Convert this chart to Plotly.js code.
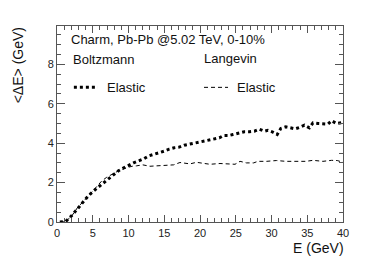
<!DOCTYPE html>
<html>
<head>
<meta charset="utf-8">
<script src="https://cdn.plot.ly/plotly-3.0.1.min.js"></script>
<style>html,body{margin:0;padding:0;background:#fff;}#chart{width:382px;height:261px;}</style>
</head>
<body>
<div id="chart"></div>
<script>
// Boltzmann, elastic
const boltzE = [0.4, 1.2, 2.05, 2.66, 3.2, 3.8, 4.4, 5.1, 5.8, 6.5, 7.2, 7.9, 8.6, 9.2, 9.8, 10.7, 11.4, 12.1, 12.8, 13.5, 14.3, 15.0, 15.7, 16.4, 17.1, 17.8, 18.5, 19.2, 19.9, 20.7, 21.3, 22.1, 22.7, 23.3, 24.0, 24.6, 25.5, 26.2, 26.9, 27.6, 28.3, 29.0, 29.5, 30.1, 30.8, 31.3, 32.0, 32.6, 33.3, 33.9, 34.6, 35.3, 35.8, 36.5, 37.2, 37.9, 38.4, 39.1, 40.0];
const boltzDE = [0.0, 0.02, 0.32, 0.56, 0.81, 1.08, 1.34, 1.57, 1.78, 2.0, 2.22, 2.44, 2.6, 2.72, 2.84, 3.0, 3.1, 3.2, 3.35, 3.42, 3.5, 3.6, 3.7, 3.77, 3.8, 3.9, 3.95, 4.0, 4.05, 4.1, 4.15, 4.2, 4.27, 4.39, 4.39, 4.44, 4.54, 4.58, 4.58, 4.61, 4.71, 4.61, 4.66, 4.58, 4.44, 4.75, 4.83, 4.78, 4.73, 4.8, 4.92, 4.78, 5.03, 5.0, 4.97, 4.97, 5.14, 5.0, 5.05];
// Langevin, elastic
const langE = [0.4, 1.2, 2.05, 3.0, 3.6, 4.15, 4.85, 5.55, 6.25, 6.95, 7.7, 8.6, 9.7, 10.5, 11.1, 12.0, 13.0, 14.4, 15.3, 16.3, 17.2, 18.1, 18.6, 19.5, 20.0, 21.4, 22.8, 24.2, 24.9, 25.6, 26.5, 27.5, 28.1, 29.3, 30.7, 32.0, 33.4, 34.8, 35.8, 37.2, 38.4, 39.2, 40.0];
const langDE = [0.0, 0.02, 0.3, 0.8, 1.0, 1.23, 1.52, 1.83, 2.08, 2.27, 2.44, 2.6, 2.75, 2.83, 2.85, 2.9, 2.83, 2.85, 2.9, 2.9, 3.02, 2.97, 2.95, 3.03, 3.0, 2.93, 2.97, 2.93, 2.93, 3.08, 3.0, 3.0, 3.08, 3.08, 3.12, 3.08, 3.08, 3.08, 3.13, 3.08, 3.13, 3.12, 3.03];

const xTicks = [0, 5, 10, 15, 20, 25, 30, 35, 40];
const yTicks = [0, 2, 4, 6, 8];

const FONT = 'Liberation Sans, Arial, sans-serif';
const AX = '#555';

const traces = [
  {x: boltzE, y: boltzDE, type: 'scatter', mode: 'lines',
   line: {color: '#000', width: 3, dash: '3px,3px'}, hoverinfo: 'skip'},
  {x: langE, y: langDE, type: 'scatter', mode: 'lines',
   line: {color: '#000', width: 1, dash: '4px,3px'}, hoverinfo: 'skip'}
];

function axis(range, ticks, minorDt, ylen) {
  return {
    range: range, tickmode: 'array', tickvals: ticks, ticktext: ticks.map(String),
    ticks: 'inside', ticklen: ylen, tickwidth: 1, tickcolor: AX,
    minor: {dtick: minorDt, ticks: 'inside', ticklen: 4, tickcolor: AX, tickwidth: 1, showgrid: false},
    showline: true, linecolor: AX, linewidth: 1, mirror: 'allticks',
    showgrid: false, zeroline: false, fixedrange: true,
    tickfont: {family: FONT, size: 11, color: '#222'}
  };
}

const layout = {
  width: 382, height: 261,
  margin: {l: 57, r: 39, t: 26, b: 39},
  paper_bgcolor: '#fff', plot_bgcolor: '#fff',
  showlegend: false,
  xaxis: Object.assign(axis([0, 40], xTicks, 1, 7), {ticklabelstandoff: 1}),
  yaxis: axis([0, 9.95], yTicks, 0.5, 8),
  shapes: [
    {type: 'line', xref: 'paper', yref: 'paper', x0: 0.059, x1: 0.143, y0: 0.687, y1: 0.687,
     line: {color: '#000', width: 3, dash: '3px,3px'}},
    {type: 'line', xref: 'paper', yref: 'paper', x0: 0.514, x1: 0.598, y0: 0.687, y1: 0.687,
     line: {color: '#000', width: 1, dash: '4px,3px'}}
  ],
  annotations: [
    {text: 'Charm, Pb-Pb @5.02 TeV, 0-10%', xref: 'paper', yref: 'paper', x: 0.043, y: 0.932,
     xanchor: 'left', yanchor: 'middle', showarrow: false, font: {family: FONT, size: 13, color: '#111'}},
    {text: 'Boltzmann', xref: 'paper', yref: 'paper', x: 0.050, y: 0.830,
     xanchor: 'left', yanchor: 'middle', showarrow: false, font: {family: FONT, size: 13, color: '#111'}},
    {text: 'Langevin', xref: 'paper', yref: 'paper', x: 0.508, y: 0.833,
     xanchor: 'left', yanchor: 'middle', showarrow: false, font: {family: FONT, size: 13, color: '#111'}},
    {text: 'Elastic', xref: 'paper', yref: 'paper', x: 0.169, y: 0.687,
     xanchor: 'left', yanchor: 'middle', showarrow: false, font: {family: FONT, size: 13, color: '#111'}},
    {text: 'Elastic', xref: 'paper', yref: 'paper', x: 0.623, y: 0.687,
     xanchor: 'left', yanchor: 'middle', showarrow: false, font: {family: FONT, size: 13, color: '#111'}},
    {text: 'E (GeV)', xref: 'paper', yref: 'paper', x: 1.007, y: -0.132,
     xanchor: 'right', yanchor: 'middle', borderpad: 0, showarrow: false, font: {family: FONT, size: 14, color: '#111'}},
    {text: '&lt;ΔE&gt; (GeV)', xref: 'paper', yref: 'paper', x: -0.136, y: 0.8,
     xanchor: 'center', yanchor: 'middle', textangle: -90, showarrow: false, font: {family: FONT, size: 14, color: '#111'}}
  ]
};

Plotly.newPlot('chart', traces, layout, {staticPlot: true, displayModeBar: false});
</script>
</body>
</html>
